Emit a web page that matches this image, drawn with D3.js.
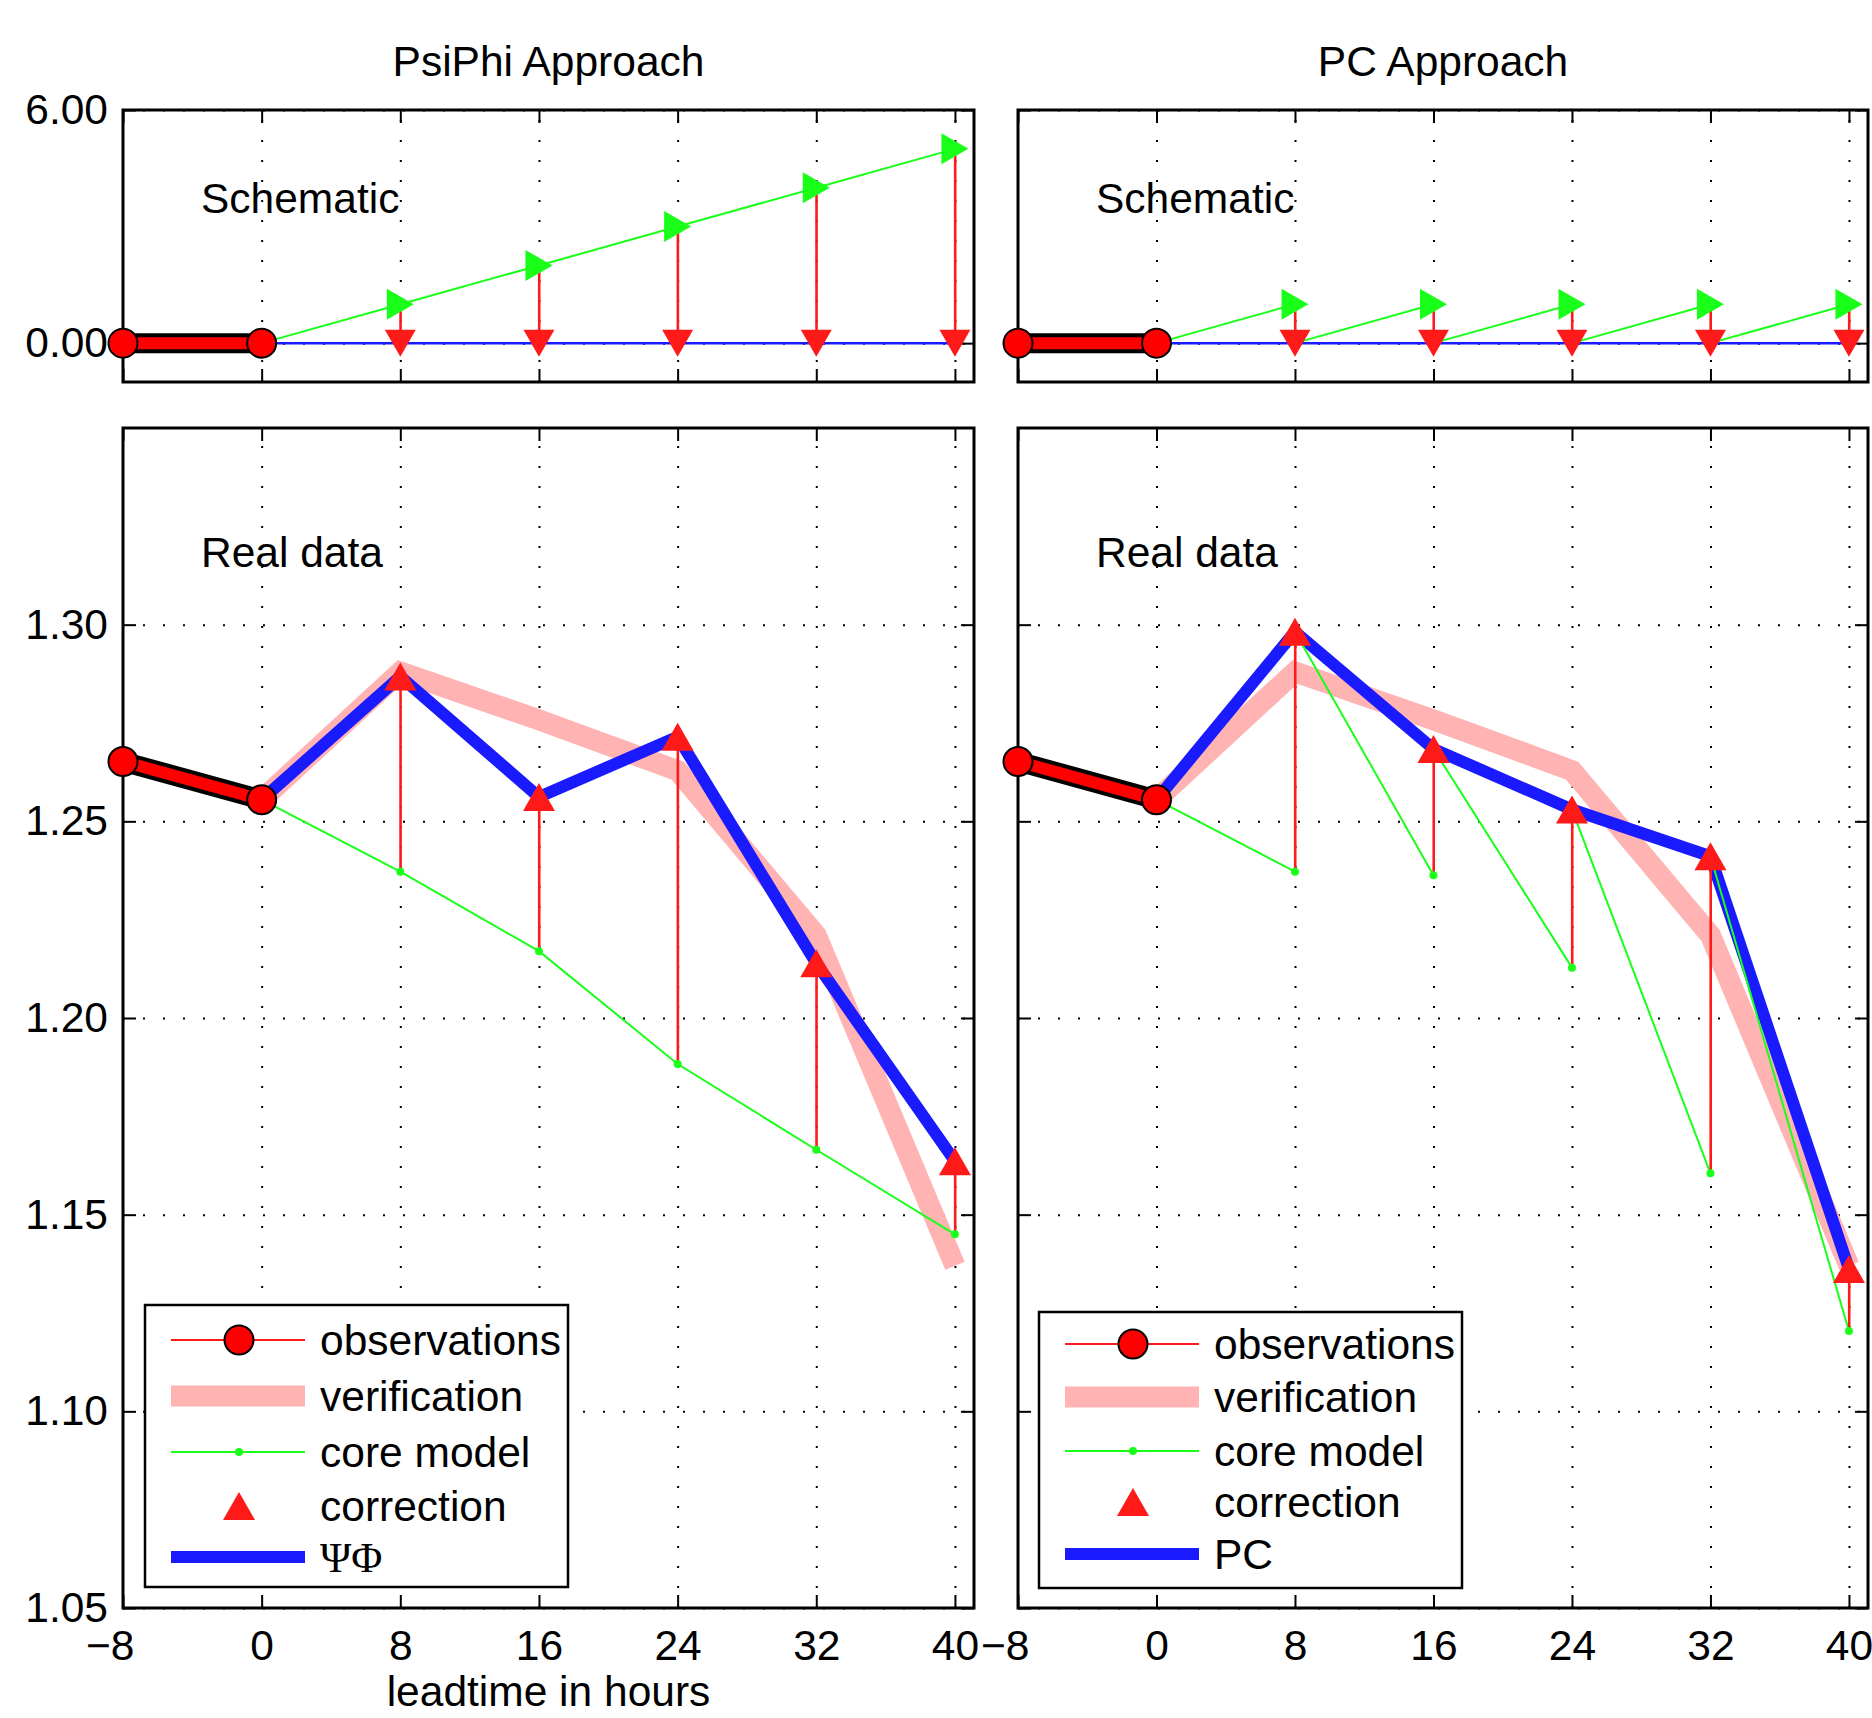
<!DOCTYPE html>
<html>
<head>
<meta charset="utf-8">
<script src="https://cdn.jsdelivr.net/npm/d3@7"></script>
<style>
  body { margin: 0; background: #fff; }
  text { font-family: "Liberation Sans", Arial, Helvetica, sans-serif; }
</style>
</head>
<body>
<script>
// ---- data ----
var leadtimes = [0, 8, 16, 24, 32, 40];
var obsTimes = [-8, 0];
var obsValues = [1.2652, 1.2555];
var verification = [1.2555, 1.2880, 1.2758, 1.2629, 1.2210, 1.1370];
var psiphiCore = [1.2555, 1.2372, 1.2170, 1.1883, 1.1665, 1.1450];
var psiphiCorrected = [1.2555, 1.2868, 1.2562, 1.2715, 1.2139, 1.1636];
var pcCore = [1.2555, 1.2372, 1.2363, 1.2128, 1.1605, 1.1204];
var pcCorrected = [1.2555, 1.2982, 1.2684, 1.2530, 1.2411, 1.1362];

var schemObs = [0, 0];
var psiphiSchemCore = [0, 1, 2, 3, 4, 5];
var pcSchemCore = [0, 1, 1, 1, 1, 1];
var schemCorrected = [0, 0, 0, 0, 0, 0];

var xTicks = [-8, 0, 8, 16, 24, 32, 40];
var schemTicks = [0, 6];
var realTicks = [1.05, 1.10, 1.15, 1.20, 1.25, 1.30];

var titles = ['PsiPhi Approach', 'PC Approach'];
var legendLabels = ['observations', 'verification', 'core model', 'correction'];
var methodLabels = ['\u03A8\u03A6', 'PC'];

// ---- layout ----
var width = 1872, height = 1718, FS = 42.5;
var panelX = [[123, 974], [1018, 1868]];
var schemY = [110, 382];
var realY = [428, 1608];
var legendBox = [
  {x: 145, y: 1305, w: 423, h: 282, rows: [1340, 1396, 1452, 1506, 1557]},
  {x: 1039, y: 1312, w: 423, h: 276, rows: [1344, 1397, 1451, 1502, 1554]}
];

var RED = '#ff1a1a', GREEN = '#1aff1a', BLUE = '#1a1aff', PINK = '#ffb3b3';

var svg = d3.select('body').append('svg')
  .attr('width', width)
  .attr('height', height);

function triPath(dir, w, h) {
  // marker box centred on the point, like matlab
  if (dir === 'up') return `M0,${-h/2}L${w/2},${h/2}L${-w/2},${h/2}Z`;
  if (dir === 'down') return `M0,${h/2}L${w/2},${-h/2}L${-w/2},${-h/2}Z`;
  return `M${w/2},0L${-w/2},${-h/2}L${-w/2},${h/2}Z`; // right
}

function drawAxes(g, x, y, ticksY, fmtY, showXLabels, showYLabels) {
  var top = y.range()[1], bottom = y.range()[0];
  var left = x.range()[0], right = x.range()[1];
  var h = bottom - top, w = right - left;

  // dotted grid
  var gx = g.append('g').attr('transform', `translate(0,${bottom})`)
    .call(d3.axisBottom(x).tickValues(xTicks.filter(d => d > -8)).tickSize(-h).tickFormat(''));
  var gy = g.append('g').attr('transform', `translate(${left},0)`)
    .call(d3.axisLeft(y).tickValues(ticksY).tickSize(-w).tickFormat(''));
  [gx, gy].forEach(function (a) {
    a.select('.domain').remove();
    a.selectAll('line').attr('stroke', '#000').attr('stroke-width', 2).attr('stroke-dasharray', '2,18');
  });

  // inward ticks on all four sides
  var axB = g.append('g').attr('transform', `translate(0,${bottom})`)
    .call(d3.axisBottom(x).tickValues(xTicks).tickSize(-13).tickPadding(22)
      .tickFormat(showXLabels ? (d => d < 0 ? '\u2212' + Math.abs(d) : d) : ''));
  var axT = g.append('g').attr('transform', `translate(0,${top})`)
    .call(d3.axisTop(x).tickValues(xTicks).tickSize(-13).tickFormat(''));
  var axL = g.append('g').attr('transform', `translate(${left},0)`)
    .call(d3.axisLeft(y).tickValues(ticksY).tickSize(-13).tickPadding(15)
      .tickFormat(showYLabels ? fmtY : ''));
  var axR = g.append('g').attr('transform', `translate(${right},0)`)
    .call(d3.axisRight(y).tickValues(ticksY).tickSize(-13).tickFormat(''));
  [axB, axT, axL, axR].forEach(function (a) {
    a.select('.domain').remove();
    a.attr('font-size', FS).attr('font-family', '"Liberation Sans", Arial, sans-serif');
    a.selectAll('line').attr('stroke', '#000').attr('stroke-width', 2);
    a.selectAll('text').attr('fill', '#000');
  });
  // minus sign hangs to the left of the digit
  axB.selectAll('text').filter(d => d < 0).attr('text-anchor', 'end').attr('dx', 11);

  g.append('rect')
    .attr('x', left).attr('y', top).attr('width', w).attr('height', h)
    .attr('fill', 'none').attr('stroke', '#000').attr('stroke-width', 3);
}

function drawObs(g, x, y, vals) {
  var pts = obsTimes.map((t, i) => [x(t), y(vals[i])]);
  var line = d3.line();
  g.append('path').attr('d', line(pts)).attr('stroke', '#000').attr('stroke-width', 20).attr('fill', 'none');
  g.append('path').attr('d', line(pts)).attr('stroke', '#ff0000').attr('stroke-width', 12).attr('fill', 'none');
  g.selectAll(null).data(pts).enter().append('circle')
    .attr('cx', d => d[0]).attr('cy', d => d[1]).attr('r', 14.5)
    .attr('fill', '#ff0000').attr('stroke', '#000').attr('stroke-width', 2);
}

function drawPanel(g, x, y, o) {
  var line = d3.line().x(d => x(d[0])).y(d => y(d[1]));

  if (o.verif) {
    g.append('path').attr('d', line(leadtimes.map((t, i) => [t, o.verif[i]])))
      .attr('fill', 'none').attr('stroke', PINK).attr('stroke-width', 21)
      .attr('stroke-linejoin', 'miter');
  }

  // corrected forecast
  g.append('path').attr('d', line(leadtimes.map((t, i) => [t, o.corrected[i]])))
    .attr('fill', 'none').attr('stroke', BLUE).attr('stroke-width', o.blueWidth)
    .attr('stroke-linejoin', 'miter');

  // core model
  if (o.restart) {
    for (var i = 1; i < leadtimes.length; i++) {
      g.append('path')
        .attr('d', line([[leadtimes[i-1], o.corrected[i-1]], [leadtimes[i], o.core[i]]]))
        .attr('fill', 'none').attr('stroke', GREEN).attr('stroke-width', 2);
    }
  } else {
    g.append('path').attr('d', line(leadtimes.map((t, i) => [t, o.core[i]])))
      .attr('fill', 'none').attr('stroke', GREEN).attr('stroke-width', 2);
  }

  var idx = d3.range(1, leadtimes.length);

  // correction arrows (nudged so they cover the dotted grid line underneath)
  g.selectAll(null).data(idx).enter().append('line')
    .attr('x1', i => x(leadtimes[i]) + 0.25).attr('x2', i => x(leadtimes[i]) + 0.25)
    .attr('y1', i => y(o.core[i])).attr('y2', i => y(o.corrected[i]))
    .attr('stroke', RED).attr('stroke-width', 2.6);

  if (o.schematic) {
    g.selectAll(null).data(idx).enter().append('path')
      .attr('transform', i => `translate(${x(leadtimes[i])},${y(o.corrected[i])})`)
      .attr('d', triPath('down', 31, 27)).attr('fill', RED);
    g.selectAll(null).data(idx).enter().append('path')
      .attr('transform', i => `translate(${x(leadtimes[i])},${y(o.core[i])})`)
      .attr('d', triPath('right', 27, 31)).attr('fill', GREEN);
  } else {
    g.selectAll(null).data(idx).enter().append('circle')
      .attr('cx', i => x(leadtimes[i])).attr('cy', i => y(o.core[i])).attr('r', 4)
      .attr('fill', GREEN);
    g.selectAll(null).data(idx).enter().append('path')
      .attr('transform', i => `translate(${x(leadtimes[i])},${y(o.corrected[i])})`)
      .attr('d', triPath('up', 32, 28)).attr('fill', RED);
  }

  drawObs(g, x, y, o.obs);
}

function drawLegend(g, box, method) {
  g.append('rect').attr('x', box.x).attr('y', box.y).attr('width', box.w).attr('height', box.h)
    .attr('fill', '#fff').attr('stroke', '#000').attr('stroke-width', 2.5);
  var x1 = box.x + 26, x2 = box.x + 160, xm = box.x + 94, xt = box.x + 175;
  var r = box.rows;

  g.append('line').attr('x1', x1).attr('x2', x2).attr('y1', r[0]).attr('y2', r[0])
    .attr('stroke', RED).attr('stroke-width', 2);
  g.append('circle').attr('cx', xm).attr('cy', r[0]).attr('r', 14.5)
    .attr('fill', '#ff0000').attr('stroke', '#000').attr('stroke-width', 2);

  g.append('line').attr('x1', x1).attr('x2', x2).attr('y1', r[1]).attr('y2', r[1])
    .attr('stroke', PINK).attr('stroke-width', 21);

  g.append('line').attr('x1', x1).attr('x2', x2).attr('y1', r[2]).attr('y2', r[2])
    .attr('stroke', GREEN).attr('stroke-width', 2);
  g.append('circle').attr('cx', xm).attr('cy', r[2]).attr('r', 4).attr('fill', GREEN);

  g.append('path').attr('transform', `translate(${xm},${r[3]})`)
    .attr('d', triPath('up', 32, 28)).attr('fill', RED);

  g.append('line').attr('x1', x1).attr('x2', x2).attr('y1', r[4]).attr('y2', r[4])
    .attr('stroke', BLUE).attr('stroke-width', 12);

  legendLabels.concat([method]).forEach(function (lab, i) {
    var t = g.append('text').attr('x', xt).attr('y', r[i] + 15).attr('font-size', FS).text(lab);
    if (lab === methodLabels[0]) t.style('font-family', '"Liberation Serif", "DejaVu Serif", serif');
  });
}

panelX.forEach(function (px, p) {
  var g = svg.append('g');
  var x = d3.scaleLinear().domain([-8, 41.1]).range(px);
  var ys = d3.scaleLinear().domain([-1, 6]).range([schemY[1], schemY[0]]);
  var yr = d3.scaleLinear().domain([1.05, 1.35]).range([realY[1], realY[0]]);

  // schematic panel
  drawAxes(g, x, ys, schemTicks, d3.format('.2f'), false, p === 0);
  drawPanel(g, x, ys, {
    schematic: true,
    restart: p === 1,
    obs: schemObs,
    core: p === 0 ? psiphiSchemCore : pcSchemCore,
    corrected: schemCorrected,
    blueWidth: 2.5
  });

  // real data panel
  drawAxes(g, x, yr, realTicks, d3.format('.2f'), true, p === 0);
  drawPanel(g, x, yr, {
    schematic: false,
    restart: p === 1,
    obs: obsValues,
    verif: verification,
    core: p === 0 ? psiphiCore : pcCore,
    corrected: p === 0 ? psiphiCorrected : pcCorrected,
    blueWidth: 12
  });

  var cx = (px[0] + px[1]) / 2;
  g.append('text').attr('x', cx).attr('y', 76).attr('text-anchor', 'middle')
    .attr('font-size', FS).text(titles[p]);
  g.append('text').attr('x', px[0] + 78).attr('y', 213).attr('font-size', FS).text('Schematic');
  g.append('text').attr('x', px[0] + 78).attr('y', 567).attr('font-size', FS).text('Real data');

  drawLegend(g, legendBox[p], methodLabels[p]);
});

svg.append('text').attr('x', (panelX[0][0] + panelX[0][1]) / 2).attr('y', 1706)
  .attr('text-anchor', 'middle').attr('font-size', FS).text('leadtime in hours');
</script>
</body>
</html>
